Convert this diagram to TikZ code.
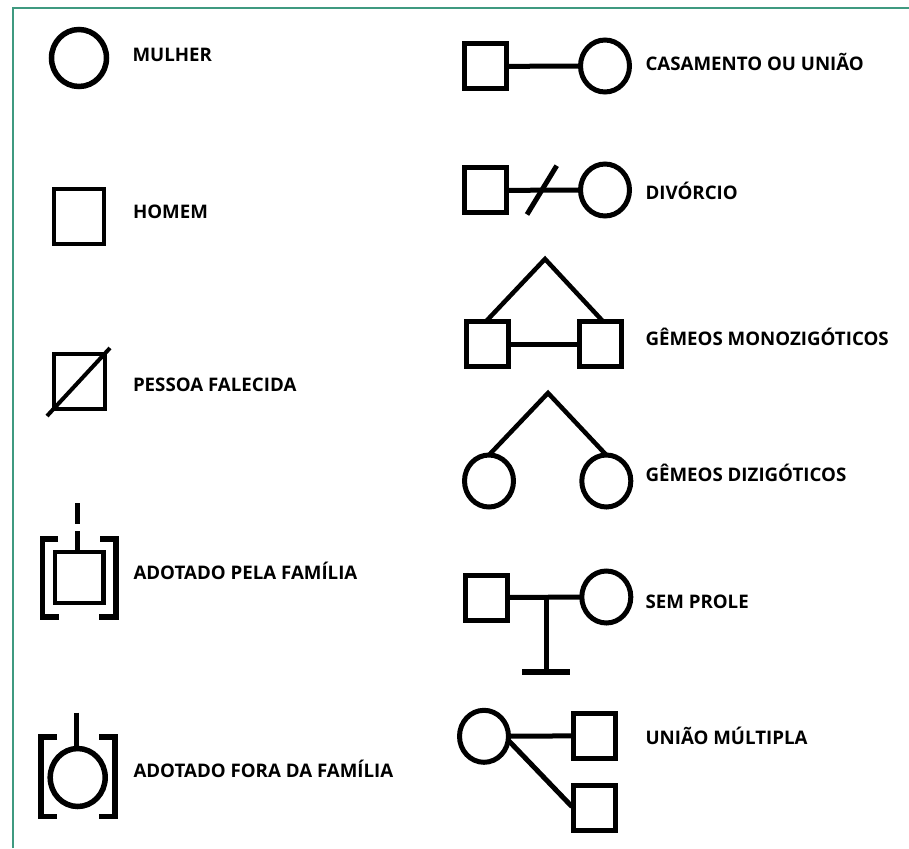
\documentclass[tikz,border=0pt]{standalone}
\usepackage{fontspec}
\setmainfont{Open Sans}
\usetikzlibrary{shapes.geometric}
\definecolor{frameg}{HTML}{3F9A80}
\tikzset{
  x=1pt,y=-1pt,
  sq/.style={draw=black,rectangle,inner sep=0pt,outer sep=0pt,line width=5pt,minimum width=#1,minimum height=45pt},
  sq/.default=42pt,
  ci/.style={draw=black,ellipse,inner sep=0pt,outer sep=0pt,line width=5pt,minimum width=49pt,minimum height=52pt},
  lnk/.style={draw=black,line width=5pt},
  brk/.style={draw=black,line width=5.5pt,miter limit=10},
  lab/.style={anchor=base west,inner sep=0pt,outer sep=0pt,xshift=-0.5pt,yshift=-0.7pt,font=\fontsize{18.7pt}{20pt}\selectfont\bfseries,text=black}
}
\begin{document}
\begin{tikzpicture}
\useasboundingbox (0,0) rectangle (909,848);
\draw[frameg,line width=2pt] (12.5,848) -- (12.5,8.5) -- (909,8.5);
% left column
\node[ci,minimum width=55pt,minimum height=57pt,line width=5.5pt] (mulher) at (79,58) {};
\node[lab] (tmulher) at (133,60.5) {MULHER};
\node[sq,minimum width=50.5pt,minimum height=55pt,line width=4pt] (homem) at (78.8,216) {};
\node[lab] (thomem) at (133.5,218) {HOMEM};
\node[sq,minimum width=51pt,minimum height=54.5pt,line width=4pt] (falec) at (79,381.7) {};
\coordinate (fa) at (47,416); \coordinate (fb) at (110,348);
\draw[lnk,line width=4pt] (fa) -- (fb);
\node[lab] (tfalec) at (133.5,391) {PESSOA FALECIDA};
% adotado pela
\node[sq,minimum width=48.5pt,minimum height=51pt,line width=4.5pt] (adp) at (79.2,577.5) {};
\coordinate (adpa) at (77.3,503); \coordinate (adpb) at (77.3,524); \coordinate (adpc) at (77.3,531);
\draw[lnk] (adpa) -- (adpb);
\draw[lnk] (adpc) -- (adpc |- adp.north);
\coordinate (b1) at (58,539); \coordinate (b2) at (42.5,539); \coordinate (b3) at (42.5,617); \coordinate (b4) at (59,617);
\draw[brk] (b1) -- (b2) -- (b3) -- (b4);
\coordinate (b5) at (100,539); \coordinate (b6) at (116,539); \coordinate (b7) at (116,617); \coordinate (b8) at (99,617);
\draw[brk] (b5) -- (b6) -- (b7) -- (b8);
\node[lab] (tadp) at (134,579) {ADOTADO PELA FAMÍLIA};
% adotado fora
\node[ci,minimum width=55pt,minimum height=58pt,line width=5.5pt] (adf) at (77.7,777.5) {};
\coordinate (adfa) at (76,712.7);
\draw[lnk] (adfa) -- (adfa |- adf.north);
\coordinate (c1) at (57,737); \coordinate (c2) at (41,737); \coordinate (c3) at (41,816.5); \coordinate (c4) at (57,816.5);
\draw[brk] (c1) -- (c2) -- (c3) -- (c4);
\coordinate (c5) at (99,737); \coordinate (c6) at (115,737); \coordinate (c7) at (115,816.5); \coordinate (c8) at (99,816.5);
\draw[brk] (c5) -- (c6) -- (c7) -- (c8);
\node[lab] (tadf) at (134,777) {ADOTADO FORA DA FAMÍLIA};
% casamento
\node[sq] (cs) at (485,66.4) {};
\node[ci] (cc) at (605,66) {};
\draw[lnk] (cs) -- (cc);
\node[lab] (tcas) at (646,70.3) {CASAMENTO OU UNIÃO};
% divorcio
\node[sq] (ds) at (485,190.4) {};
\node[ci] (dc) at (605,190) {};
\draw[lnk] (ds) -- (dc);
\coordinate (da) at (527,214.5); \coordinate (db) at (556.7,165.7);
\draw[lnk] (da) -- (db);
\node[lab] (tdiv) at (646,199) {DIVÓRCIO};
% monozigoticos
\node[sq] (ms1) at (487.7,344.2) {};
\node[sq] (ms2) at (600,344.2) {};
\draw[lnk] (ms1) -- (ms2);
\coordinate (map) at (545,259);
\draw[lnk,miter limit=10,line width=4.5pt] (ms1.north -| 485.7,0) -- (map) -- (ms2.north -| 603.3,0);
\node[lab] (tmono) at (646,345) {GÊMEOS MONOZIGÓTICOS};
% dizigoticos
\node[ci] (dc1) at (489,481) {};
\node[ci] (dc2) at (606.3,481) {};
\coordinate (dap) at (548,393);
\draw[lnk,miter limit=10,line width=4.5pt] (dc1.north) -- (dap) -- (dc2.north);
\node[lab] (tdiz) at (646,481) {GÊMEOS DIZIGÓTICOS};
% sem prole
\node[sq] (ss) at (486.3,597.5) {};
\node[ci] (sc) at (606.3,597) {};
\draw[lnk] (ss) -- (sc);
\coordinate (st) at (546,597.5); \coordinate (sb) at (546,671.8);
\coordinate (sl) at (522.3,671.8); \coordinate (sr) at (569.7,671.8);
\draw[lnk] (st) -- (sb);
\draw[lnk,line width=5.5pt] (sl) -- (sr);
\node[lab] (tsem) at (646,607.7) {SEM PROLE};
% uniao multipla
\node[ci] (uc) at (484,736.3) {};
\node[sq] (us1) at (594.2,735.8) {};
\node[sq] (us2) at (594.2,807.6) {};
\draw[lnk] (uc) -- (us1);
\coordinate (ua) at (508,740); \coordinate (ub) at (572,806.7);
\draw[lnk] (ua) -- (ub);
\node[lab] (tuni) at (646,743.3) {UNIÃO MÚLTIPLA};
\end{tikzpicture}
\end{document}
